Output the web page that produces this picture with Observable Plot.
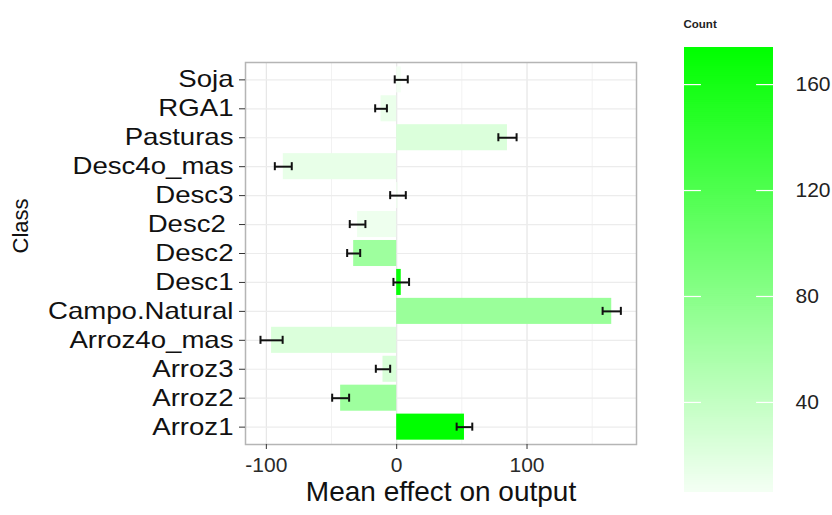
<!DOCTYPE html>
<html>
<head>
<meta charset="utf-8">
<script src="https://cdn.jsdelivr.net/npm/d3@7"></script>
<script src="https://cdn.jsdelivr.net/npm/@observablehq/plot@0.6"></script>
<style>
  body { margin: 0; background: #fff; }
  #chart { position: relative; width: 832px; height: 515px; font-family: "Liberation Sans", Arial, sans-serif; }
  #chart svg { position: absolute; top: 0; }
  #chart svg text { white-space: pre; }
</style>
</head>
<body>
<div id="chart"></div>
<script>
// Land-use classes, top to bottom as drawn
const classes = ["Soja", "RGA1", "Pasturas", "Desc4o_mas", "Desc3", "Desc2 ", "Desc2",
  "Desc1", "Campo.Natural", "Arroz4o_mas", "Arroz3", "Arroz2", "Arroz1"];
// Mean effect on output per class
const meanEffect = [3.5, -12, 85, -87, 1, -30, -33, 3.5, 165, -96, -10.5, -43, 52];
// Half-width of the error bar per class
const errorHalf = [5, 4.5, 7, 6.5, 6, 6, 5, 6, 7, 8.5, 5.5, 6.5, 6];
// Number of observations per class (bar fill)
const counts = [6, 12, 23, 14, 8, 10, 65, 168, 68, 23, 25, 65, 174];

const xTicks = [-100, 0, 100];
const xMinor = [-50, 50, 150];
const legendTicks = [40, 80, 120, 160];

const rows = classes.map((c, i) => ({
  cls: c, mean: meanEffect[i], lo: meanEffect[i] - errorHalf[i], hi: meanEffect[i] + errorHalf[i], count: counts[i]
}));

const countExtent = d3.extent(counts);
const colorScale = {
  type: "linear",
  domain: countExtent,
  range: ["#f4fff4", "#00ff00"],
  interpolate: "rgb"
};

const main = Plot.plot({
  width: 660,
  height: 515,
  marginLeft: 245,
  marginRight: 24,
  marginTop: 62,
  marginBottom: 71,
  style: { fontFamily: "Liberation Sans, Arial, sans-serif", background: "transparent" },
  x: { domain: [-116, 184] },
  y: { domain: classes, paddingInner: 0.1, paddingOuter: 0.15, round: false },
  color: colorScale,
  marks: [
    Plot.gridX(xMinor, { stroke: "#f2f2f2", strokeOpacity: 1, strokeWidth: 1 }),
    Plot.gridX(xTicks, { stroke: "#e6e6e6", strokeOpacity: 1, strokeWidth: 1.2 }),
    Plot.gridY(classes, { stroke: "#ececec", strokeOpacity: 1, strokeWidth: 1.2 }),
    Plot.barX(rows, { x: "mean", y: "cls", fill: "count", inset: 0 }),
    Plot.ruleY(rows, { x1: "lo", x2: "hi", y: "cls", stroke: "#111", strokeWidth: 2 }),
    Plot.tickX(rows, { x: "lo", y: "cls", stroke: "#111", strokeWidth: 2, insetTop: 9, insetBottom: 9 }),
    Plot.tickX(rows, { x: "hi", y: "cls", stroke: "#111", strokeWidth: 2, insetTop: 9, insetBottom: 9 }),
    Plot.frame({ stroke: "#b5b5b5", strokeWidth: 1.5 }),
    Plot.axisX({ ticks: xTicks, tickFormat: d => String(d), tickSize: 5, tickPadding: 8, fontSize: 21, label: null, stroke: "#333", fill: "#2a2a2a" }),
    Plot.axisY({ tickSize: 6, tickPadding: 6, fontSize: 23, label: null, stroke: "#333", fill: "#111" }),
    Plot.text(["Mean effect on output"], { frameAnchor: "bottom", dy: 56, fontSize: 28, fill: "#111" }),
    Plot.text(["Class"], { frameAnchor: "left", dx: -225, rotate: -90, fontSize: 22, fill: "#111" })
  ]
});
main.style.left = "0px";

// Class names are set wide, as in the original figure
main.querySelectorAll('g[aria-label="y-axis tick label"] text').forEach(t => {
  const tr = t.getAttribute("transform") || "";
  t.setAttribute("transform", tr + " scale(1.2,1)");
});

// Colour bar for the count scale
const [cMin, cMax] = countExtent;
const nSteps = 220;
const stepSize = (cMax - cMin) / nSteps;
const ramp = d3.range(nSteps).map(i => cMin + i * stepSize);

const legend = Plot.plot({
  width: 172,
  height: 515,
  marginLeft: 24,
  marginRight: 59,
  marginTop: 47,
  marginBottom: 23,
  style: { fontFamily: "Liberation Sans, Arial, sans-serif", background: "transparent" },
  x: { domain: [0, 1], axis: null },
  y: { domain: countExtent, axis: null },
  color: colorScale,
  marks: [
    Plot.rect(ramp, { x1: 0, x2: 1, y1: d => d, y2: d => Math.min(cMax, d + stepSize * 1.6), fill: d => d + stepSize / 2 }),
    Plot.ruleY(legendTicks, { x1: 0, x2: 0.19, stroke: "white", strokeWidth: 1.2 }),
    Plot.ruleY(legendTicks, { x1: 0.81, x2: 1, stroke: "white", strokeWidth: 1.2 }),
    Plot.axisY({ anchor: "right", ticks: legendTicks, tickSize: 0, tickPadding: 22, fontSize: 21, label: null, fill: "#222" }),
    Plot.text(["Count"], { frameAnchor: "top-left", dx: -1, dy: -28, textAnchor: "start", fontSize: 11.5, fontWeight: "bold", fill: "#222" })
  ]
});
legend.style.left = "660px";

const chart = document.getElementById("chart");
chart.append(main, legend);
</script>
</body>
</html>
